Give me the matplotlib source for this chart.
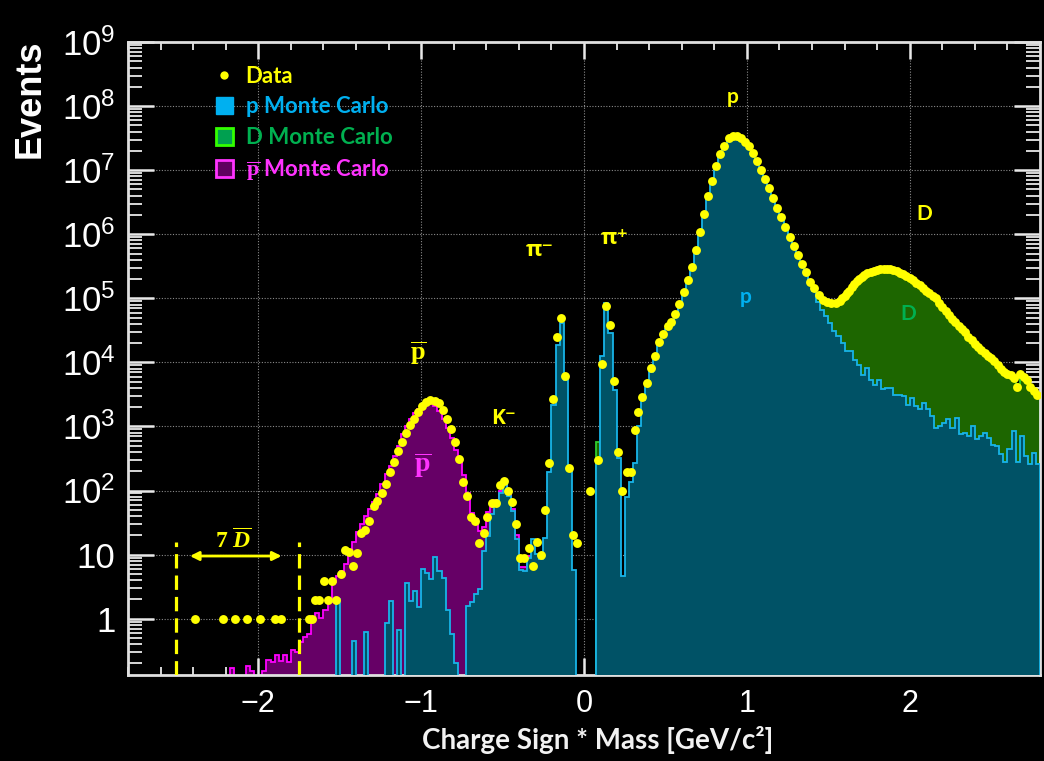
import numpy as np
import matplotlib
matplotlib.use("Agg")
from matplotlib import pyplot as plt
from matplotlib.ticker import LogLocator, MultipleLocator, FuncFormatter, NullFormatter, FixedLocator
from matplotlib.patches import Patch
from matplotlib.lines import Line2D

plt.rcParams['font.family'] = ['Liberation Sans', 'DejaVu Sans']
plt.rcParams['mathtext.fontset'] = 'custom'
plt.rcParams['mathtext.rm'] = 'Liberation Serif'
plt.rcParams['mathtext.bf'] = 'Liberation Serif:bold'
plt.rcParams['mathtext.it'] = 'Liberation Serif:italic:bold'

BIN_W = 0.025

# p Monte Carlo, bins of 0.025 starting at -1.525
p_mc_start = -1.525
p_mc = [2, 0, 0, 0, 0.45, 0, 0, 0.63, 0, 0, 0, 0, 0.87, 1.9, 0, 0.67, 0, 3.6, 1.9, 2.7,
        1.5, 6, 5.1, 4.1, 9.1, 5.5, 4.3, 1.35, 0.58, 0.2, 0, 0, 1.6, 1.85, 2.45, 2.9,
        11.5, 19.8, 43, 59, 93, 125, 83, 48, 17.5, 5.8, 5.6, 8.8, 17.5, 10.3, 8.6, 18,
        195, 2140, 19000, 41000, 5400, 200, 5.8, 0, 0, 0, 0, 0,
        300, 12500, 84000, 29000, 3700, 325, 4.7, 78, 136, 273, 1000,
        2600, 4300, 7000, 11500, 19000, 26000, 33000, 40000, 52000, 75000,
        1.15e5, 1.8e5, 2.9e5, 5.0e5, 1.0e6, 2.0e6, 3.8e6, 6.5e6, 1.15e7, 1.75e7,
        2.4e7, 3.1e7, 3.4e7, 3.4e7, 3.16e7, 2.75e7, 2.35e7, 1.86e7, 1.38e7, 1.02e7,
        7.4e6, 5.2e6, 3.7e6, 2.6e6, 1.85e6, 1.31e6, 9.1e5, 6.6e5, 4.8e5, 3.4e5,
        2.5e5, 1.75e5, 1.3e5,
        8.6e4, 6.5e4, 5.2e4, 4.1e4, 3.1e4, 2.6e4, 2.0e4, 1.5e4, 1.5e4, 1.1e4,
        9200, 6400, 8200, 5400, 4500, 5400, 3800, 4000, 4000, 3150,
        3150, 2950, 2200, 2800, 2100, 1840, 2350, 1840, 1450, 960,
        1000, 1130, 1300, 960, 1370, 760, 780, 710, 1000, 630,
        710, 780, 670, 520, 500, 370, 275, 440, 850, 275,
        720, 345, 260, 390, 260]

# pbar Monte Carlo, starting at -2.2
pbar_mc_start = -2.2
pbar_mc = [0, 0.17, 0, 0, 0, 0.18, 0.15, 0, 0, 0.15, 0.225, 0.21, 0.275, 0.22, 0.275,
           0.21, 0.32, 0.30, 0.43, 0.52, 0.58, 1.02, 1.24, 1.02, 1.35, 1.8, 3.7, 4.7,
           5.6, 7.2, 11.5, 15.9, 22.7, 30, 40, 51, 67, 88, 125, 180, 240, 350, 500,
           760, 1000, 1300, 1600, 1900, 2150, 2350, 2350, 2050, 1750, 1300, 950, 650,
           430, 290, 175, 93, 45, 36, 23, 27, 46, 55, 72, 100, 130, 90, 52, 20, 6.5,
           6.3, 9.5]

# D Monte Carlo (stacked total), starting at 1.425, plus one stray bin at 0.075
d_mc_start = 1.425
d_mc = [1.1e5, 9.5e4, 8.7e4, 8.5e4, 8.4e4, 8.3e4, 1.0e5, 1.2e5, 1.45e5, 1.7e5,
        2.0e5, 2.25e5, 2.45e5, 2.6e5, 2.72e5, 2.82e5, 2.88e5, 2.9e5, 2.82e5, 2.7e5,
        2.55e5, 2.4e5, 2.2e5, 1.95e5, 1.75e5, 1.55e5, 1.4e5, 1.2e5, 1.08e5, 9.5e4,
        8.0e4, 6.6e4, 5.6e4, 4.7e4, 4.1e4, 3.5e4, 3.0e4, 2.6e4, 2.2e4, 1.9e4,
        1.65e4, 1.45e4, 1.28e4, 1.12e4, 9800, 8300, 7200, 6600, 6000, 4600,
        6200, 5500, 4300, 3500, 3200]
d_mc_low_start = 0.075
d_mc_low = [570]

# data points
data_x = [-2.39, -2.215, -2.14, -2.07, -1.99, -1.895, -1.86, -1.69, -1.67,
          -1.65, -1.63, -1.595, -1.57, -1.545, -1.52, -1.495, -1.47, -1.446, -1.42,
          -1.395, -1.37, -1.345, -1.319, -1.29, -1.27, -1.243, -1.218, -1.194, -1.169,
          -1.145, -1.12, -1.095, -1.07, -1.044, -1.02, -0.996, -0.971, -0.944, -0.918,
          -0.893, -0.868, -0.843, -0.818, -0.794, -0.769, -0.745, -0.718, -0.694,
          -0.669, -0.642, -0.617, -0.593, -0.568, -0.543, -0.517, -0.492, -0.466,
          -0.441, -0.417, -0.394, -0.367, -0.34, -0.316, -0.291, -0.267, -0.242,
          -0.217, -0.191, -0.166, -0.142, -0.115, -0.09, -0.066, -0.041,
          0.035, 0.084, 0.109, 0.133, 0.16, 0.185, 0.211, 0.236, 0.263, 0.287, 0.31,
          0.332, 0.359, 0.386, 0.41, 0.437, 0.462, 0.486, 0.513, 0.533, 0.56, 0.585,
          0.611, 0.636, 0.66, 0.687, 0.712, 0.737, 0.761, 0.786, 0.81, 0.837, 0.862,
          0.888, 0.913, 0.94, 0.964, 0.989, 1.011, 1.036, 1.06, 1.087, 1.112, 1.136,
          1.161, 1.186, 1.212, 1.237, 1.262, 1.288, 1.313, 1.337, 1.364, 1.389,
          1.415, 1.44, 1.467, 1.491, 1.518, 1.545,
          1.57, 1.585, 1.60, 1.615, 1.63, 1.645, 1.66, 1.675, 1.69, 1.705, 1.72,
          1.74, 1.76, 1.78, 1.80, 1.82, 1.84, 1.86, 1.88, 1.90, 1.92, 1.94, 1.96,
          1.98, 2.00, 2.02, 2.04, 2.06, 2.08, 2.10, 2.12, 2.14, 2.16, 2.18, 2.20,
          2.22, 2.24, 2.26, 2.28, 2.30, 2.32, 2.34, 2.36, 2.38, 2.40, 2.42, 2.44,
          2.46, 2.48, 2.50, 2.52, 2.54, 2.56, 2.58, 2.60, 2.62, 2.64, 2.66, 2.68,
          2.70, 2.72, 2.74, 2.76, 2.78]
data_y = [1, 1, 1, 1, 1, 1, 1, 1, 1,
          1.93, 1.93, 3.9, 1.93, 3.9, 1.93, 4.9, 11.8, 11, 6.7,
          10.6, 21.8, 24.5, 33, 58, 68, 93, 127, 198, 280,
          410, 570, 800, 1040, 1320, 1670, 2100, 2400, 2550, 2500,
          2300, 1790, 1300, 925, 570, 308, 134, 81, 39,
          33, 15, 22, 39, 65, 65, 123, 142, 99,
          67, 30, 8.8, 8.8, 12.9, 6.7, 15.9, 9.9, 50,
          267, 2640, 24500, 49000, 6200, 228, 20.5, 15,
          100, 300, 9300, 76000, 38000, 5100, 400, 99, 198, 198, 880,
          1670, 2900, 4700, 8100, 12800, 20500, 28000, 36500, 42000, 56500, 82000,
          1.26e5, 1.94e5, 3.11e5, 5.65e5, 1.07e6, 2.08e6, 3.9e6, 6.7e6, 1.17e7, 1.78e7, 2.42e7,
          3.16e7, 3.4e7, 3.4e7, 3.16e7, 2.75e7, 2.35e7, 1.86e7, 1.38e7, 1.02e7, 7.4e6, 5.2e6,
          3.7e6, 2.6e6, 1.85e6, 1.31e6, 9.1e5, 6.6e5, 4.8e5, 3.4e5, 2.6e5, 1.82e5,
          1.44e5, 1.12e5, 9.5e4, 8.6e4, 8.3e4, 8.4e4,
          9.0e4, 1.0e5, 1.1e5, 1.2e5, 1.32e5, 1.5e5, 1.68e5, 1.85e5, 2.0e5, 2.15e5, 2.3e5,
          2.45e5, 2.58e5, 2.7e5, 2.78e5, 2.84e5, 2.88e5, 2.9e5, 2.85e5, 2.76e5, 2.65e5, 2.52e5, 2.38e5,
          2.25e5, 2.1e5, 1.9e5, 1.73e5, 1.6e5, 1.45e5, 1.32e5, 1.2e5, 1.1e5, 1.0e5, 8.5e4, 7.3e4,
          6.3e4, 5.5e4, 4.8e4, 4.2e4, 3.7e4, 3.3e4, 2.95e4, 2.5e4, 2.2e4, 1.95e4, 1.75e4, 1.55e4,
          1.4e4, 1.25e4, 1.15e4, 1.05e4, 9000, 8000, 7200, 6700, 6300, 5800, 4200, 6500,
          6000, 5400, 4200, 3600, 3150]

x_ticks = [-2, -1, 0, 1, 2]
FLOOR = 1e-3


def draw_hist(ax, vals, start, face, edge, z):
    v = np.asarray(vals, dtype=float)
    v = np.where(v > 0, v, FLOOR)
    edges = start + BIN_W * np.arange(len(v) + 1)
    ax.stairs(v, edges, baseline=FLOOR, fill=True, facecolor=face,
              edgecolor=edge, linewidth=1.3, zorder=z)


def ylabel_fmt(v, pos):
    e = int(round(np.log10(v)))
    if e == 0:
        return '1'
    if e == 1:
        return '10'
    return r'$\mathdefault{10^{%d}}$' % e


fig = plt.figure(figsize=(10.44, 7.61), dpi=100, facecolor='black')
ax = fig.add_axes([0.1226, 0.113, 0.8736, 0.8318])
ax.set_facecolor('black')

draw_hist(ax, d_mc, d_mc_start, '#1d6600', '#2ecc2e', 1)
draw_hist(ax, d_mc_low, d_mc_low_start, '#1d6600', '#2ecc2e', 1)
draw_hist(ax, pbar_mc, pbar_mc_start, '#660066', '#ff00ff', 2)
draw_hist(ax, p_mc, p_mc_start, '#005266', '#18b4e8', 3)

ax.plot(data_x, data_y, 'o', color='#ffff00', ms=6.4, mec='none', zorder=6)

ax.set_yscale('log')
ax.set_xlim(-2.8, 2.8)
ax.set_ylim(0.132, 1e9)

ax.xaxis.set_major_locator(FixedLocator(x_ticks))
ax.xaxis.set_minor_locator(MultipleLocator(0.2))
ax.yaxis.set_major_locator(LogLocator(base=10, numticks=20))
ax.yaxis.set_minor_locator(LogLocator(base=10, subs=np.arange(2, 10), numticks=200))
ax.yaxis.set_major_formatter(FuncFormatter(ylabel_fmt))
ax.yaxis.set_minor_formatter(NullFormatter())

ax.grid(which='major', color='#8a8a8a', linestyle=(0, (1, 1.5)), linewidth=0.8, zorder=0)
ax.set_axisbelow(True)

ax.tick_params(which='both', direction='in', top=True, right=True, colors='#e8e8e8')
ax.tick_params(axis='y', which='major', length=19, width=1.8, labelsize=25, pad=9)
ax.tick_params(axis='y', which='minor', length=10, width=1.3)
ax.tick_params(axis='x', which='major', length=12.5, width=1.8, labelsize=22, pad=10)
ax.tick_params(axis='x', which='minor', length=6, width=1.3)
for lab in ax.get_xticklabels() + ax.get_yticklabels():
    lab.set_color('white')
for sp in ax.spines.values():
    sp.set_color('#e0e0e0')
    sp.set_linewidth(2)

# 7 Dbar window
for xd in [-2.505, -1.747]:
    ax.plot([xd, xd], [0.132, 15.5], color='#ffff00', lw=2.3, ls=(0, (4.5, 2.2)), zorder=7)
ax.annotate('', xy=(-1.84, 9.5), xytext=(-2.437, 9.5),
            arrowprops=dict(arrowstyle='<|-|>', color='#ffff00', lw=2, mutation_scale=13), zorder=7)
ax.text(-2.153, 16.5, r'$\mathbf{7}\ \overline{\mathit{D}}$', color='#ffff00', fontsize=17,
        ha='center', va='center', zorder=7)

lato = ['Lato', 'DejaVu Sans']
greek = ['Open Sans', 'DejaVu Sans']
ax.text(0.914, 1.4e8, 'p', color='#ffff00', fontsize=15, fontweight='bold', family=lato, ha='center', va='center')
ax.text(2.09, 2.1e6, 'D', color='#ffff00', fontsize=15, fontweight='bold', family=lato, ha='center', va='center')
ax.text(-0.27, 5.5e5, 'π⁻', color='#ffff00', fontsize=16, fontweight='bold', family=greek, ha='center', va='center')
ax.text(0.19, 8.5e5, 'π⁺', color='#ffff00', fontsize=16, fontweight='bold', family=greek, ha='center', va='center')
ax.text(-0.497, 1.33e3, 'K⁻', color='#ffff00', fontsize=15, fontweight='bold', family=greek, ha='center', va='center')
ax.text(-1.02, 1.4e4, r'$\overline{\mathbf{p}}$', color='#ffff00', fontsize=19, ha='center', va='center')
ax.text(-0.988, 245, r'$\overline{\mathbf{p}}$', color='#ff33ff', fontsize=20, ha='center', va='center', zorder=8)
ax.text(0.99, 1.05e5, 'p', color='#00b0f0', fontsize=15, fontweight='bold', family=lato, ha='center', va='center', zorder=8)
ax.text(1.99, 5.7e4, 'D', color='#00b050', fontsize=15, fontweight='bold', family=lato, ha='center', va='center', zorder=8)

handles = [Line2D([], [], marker='o', color='#ffff00', ls='none', ms=6, mec='none'),
           Patch(facecolor='#00b0f0', edgecolor='#00b0f0'),
           Patch(facecolor='#00a050', edgecolor='#33ff00', linewidth=2),
           Patch(facecolor='#600060', edgecolor='#ff33ff', linewidth=2)]
labels = ['Data', 'p Monte Carlo', 'D Monte Carlo', r'$\overline{\mathbf{p}}$ Monte Carlo']
leg = ax.legend(handles, labels, loc='upper left', bbox_to_anchor=(0.096, 0.962),
                frameon=False, handlelength=0.8, handleheight=0.8, handletextpad=0.55,
                labelspacing=0.42, borderaxespad=0, borderpad=0,
                prop={'family': 'Lato', 'weight': 'bold', 'size': 16},
                labelcolor=['#ffff00', '#00b0f0', '#00b050', '#ff33ff'])
leg.set_zorder(9)

fig.text(30 / 1044, 1 - 99 / 761, 'Events', rotation=90, color='white', fontsize=26,
         fontweight='bold', ha='center', va='center')
fig.text(598 / 1044, 1 - 740 / 761, 'Charge Sign * Mass [GeV/c²]', color='#f2f2f2',
         fontsize=20, fontweight='bold', family=lato, ha='center', va='center')

fig.savefig('out.png', dpi=100, facecolor='black')
